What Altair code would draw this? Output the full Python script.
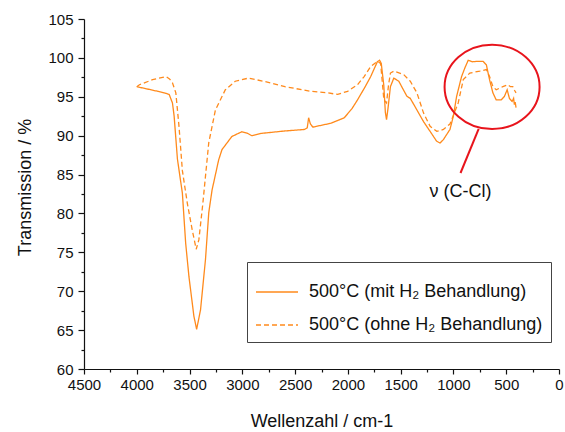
import altair as alt
import pandas as pd

# ---- data ----
wn_mit = [4000, 3900, 3800, 3740, 3693, 3662, 3646, 3615, 3568, 3537, 3506, 3459, 3433,
          3396, 3349, 3318, 3287, 3224, 3193, 3099, 3005, 2950, 2911, 2817, 2600, 2410,
          2385, 2372, 2355, 2332, 2160, 2034, 1960, 1909, 1840, 1784, 1721, 1700, 1684,
          1660, 1645, 1634, 1620, 1597, 1565, 1518, 1440, 1409, 1346, 1283, 1221, 1160,
          1127, 1095, 1033, 1001, 970, 923, 892, 860, 820, 782, 719, 688, 658, 626, 595,
          548, 517, 491, 470, 444, 430, 423, 415, 407]
t_mit = [96.3, 96.0, 95.7, 95.5, 95.3, 94.2, 92.5, 87.0, 82.6, 76.2, 71.9, 66.8, 65.1,
         67.6, 74.1, 80.1, 83.0, 86.9, 88.2, 89.9, 90.5, 90.3, 90.0, 90.3, 90.6, 90.8,
         91.0, 92.3, 91.5, 91.1, 91.6, 92.3, 93.5, 94.6, 96.2, 97.6, 99.5, 99.7, 99.3,
         96.5, 93.0, 92.05, 93.5, 96.3, 97.4, 97.0, 95.05, 94.8, 93.3, 91.8, 90.55, 89.3,
         89.05, 89.5, 90.8, 92.5, 95.05, 97.6, 98.7, 99.7, 99.5, 99.55, 99.55, 99.1, 97.2,
         95.5, 94.6, 94.6, 95.05, 95.9, 94.8, 94.4, 94.8, 94.0, 94.3, 93.6]

wn_ohne = [4000, 3975, 3850, 3724, 3690, 3662, 3630, 3600, 3568, 3521, 3475, 3437, 3412,
           3374, 3349, 3318, 3255, 3161, 3067, 2942, 2800, 2597, 2348, 2191, 2097, 2003,
           1909, 1846, 1784, 1721, 1690, 1659, 1634, 1615, 1597, 1565, 1471, 1409, 1346,
           1283, 1221, 1158, 1095, 1033, 955, 907, 845, 750, 688, 658, 626, 595, 532, 485,
           460, 438, 420, 407]
t_ohne = [96.3, 96.55, 97.2, 97.6, 97.3, 96.8, 95.5, 91.2, 85.5, 81.3, 77.9, 75.4, 76.6,
          81.3, 84.8, 89.1, 93.3, 95.9, 97.0, 97.4, 97.0, 96.3, 95.7, 95.5, 95.3, 95.7,
          96.55, 97.6, 98.9, 99.55, 99.3, 94.6, 94.2, 96.5, 98.05, 98.3, 97.85, 97.0, 95.5,
          92.9, 91.2, 90.55, 90.8, 91.5, 94.2, 97.2, 98.05, 98.3, 98.5, 97.6, 96.3, 95.9,
          96.3, 96.55, 96.3, 96.3, 95.8, 95.5]

LAB_MIT = "500°C (mit H₂ Behandlung)"
LAB_OHNE = "500°C (ohne H₂ Behandlung)"

x_major = [4500, 4000, 3500, 3000, 2500, 2000, 1500, 1000, 500, 0]
x_minor = [4250, 3750, 3250, 2750, 2250, 1750, 1250, 750, 250]
y_major = [60, 65, 70, 75, 80, 85, 90, 95, 100, 105]
y_minor = [62.5, 67.5, 72.5, 77.5, 82.5, 87.5, 92.5, 97.5, 102.5]

# annotation (data coordinates)
ann_ellipse_x = [634]
ann_ellipse_y = [96.27]
ann_line_x1 = [761]
ann_line_y1 = [90.86]
ann_line_x2 = [933]
ann_line_y2 = [85.2]
ann_text_x = [933]
ann_text_y = [82.8]
ann_text = ["ν (C-Cl)"]

df = pd.concat([
    pd.DataFrame({"w": wn_mit, "t": t_mit, "s": LAB_MIT}),
    pd.DataFrame({"w": wn_ohne, "t": t_ohne, "s": LAB_OHNE}),
], ignore_index=True)

ann = pd.DataFrame({
    "ex": ann_ellipse_x, "ey": ann_ellipse_y,
    "lx1": ann_line_x1, "ly1": ann_line_y1, "lx2": ann_line_x2, "ly2": ann_line_y2,
    "tx": ann_text_x, "ty": ann_text_y, "label": ann_text,
})

FONT = "Liberation Sans"
ORANGE = "#FF8A1C"
RED = "#E8141C"

xscale = alt.Scale(domain=[0, 4500], reverse=True, nice=False, zero=False)
yscale = alt.Scale(domain=[60, 105], nice=False, zero=False)

lines = alt.Chart(df).mark_line(color=ORANGE, strokeWidth=1.3).encode(
    x=alt.X("w:Q", scale=xscale,
            axis=alt.Axis(values=x_major, title="Wellenzahl / cm-1", tickSize=5, orient="bottom",
                          labelPadding=3, titlePadding=20, format="d",
                          labelFlush=False, labelOverlap=False, labelBound=False)),
    y=alt.Y("t:Q", scale=yscale,
            axis=alt.Axis(values=y_major, title="Transmission / %", tickSize=6, orient="left",
                          labelPadding=5, titlePadding=13, titleY=168, format="d",
                          labelFlush=False, labelOverlap=False)),
    strokeDash=alt.StrokeDash(
        "s:N",
        scale=alt.Scale(domain=[LAB_MIT, LAB_OHNE], range=[[1, 0], [5, 3]]),
        legend=alt.Legend(orient="none", legendX=163, legendY=243, title=None,
                          labelFont=FONT, labelFontSize=18, labelColor="#111",
                          symbolType="stroke", symbolSize=1764, symbolStrokeWidth=1.3,
                          symbolStrokeColor=ORANGE, strokeColor="#444", fillColor="white",
                          padding=8, rowPadding=2, labelOffset=10, labelLimit=400),
    ),
)

minor_x = alt.Chart(df).mark_point(opacity=0).encode(
    x=alt.X("w:Q", scale=xscale,
            axis=alt.Axis(values=x_minor, labels=False, domain=False, tickSize=3,
                          title=None, orient="bottom")),
    y=alt.Y("t:Q", scale=yscale, axis=None),
)
minor_y = alt.Chart(df).mark_point(opacity=0).encode(
    x=alt.X("w:Q", scale=xscale, axis=None),
    y=alt.Y("t:Q", scale=yscale,
            axis=alt.Axis(values=y_minor, labels=False, domain=False, tickSize=3,
                          title=None, orient="left")),
)

k = 0.5523
r = 0.888
ELLIPSE = (f"M -1 0 C -1 {-k*r:.3f} {-k:.3f} {-r} 0 {-r} C {k:.3f} {-r} 1 {-k*r:.3f} 1 0 "
           f"C 1 {k*r:.3f} {k:.3f} {r} 0 {r} C {-k:.3f} {r} -1 {k*r:.3f} -1 0 Z")

ellipse = alt.Chart(ann).mark_point(shape=ELLIPSE, size=9025, filled=False, stroke=RED,
                                    strokeWidth=2, opacity=1).encode(
    x=alt.X("ex:Q", scale=xscale, axis=None),
    y=alt.Y("ey:Q", scale=yscale, axis=None),
)
pointer = alt.Chart(ann).mark_rule(color=RED, strokeWidth=2).encode(
    x=alt.X("lx1:Q", scale=xscale, axis=None),
    y=alt.Y("ly1:Q", scale=yscale, axis=None),
    x2="lx2:Q", y2="ly2:Q",
)
label = alt.Chart(ann).mark_text(font=FONT, fontSize=18, color="#111",
                                 align="center", baseline="middle").encode(
    x=alt.X("tx:Q", scale=xscale, axis=None),
    y=alt.Y("ty:Q", scale=yscale, axis=None),
    text="label:N",
)

chart = alt.layer(lines, minor_x, minor_y, ellipse, pointer, label).resolve_axis(
    x="independent", y="independent"
).properties(
    width=475, height=350,
    padding={"left": 84, "top": 19, "right": 6, "bottom": 63},
    autosize=alt.AutoSizeParams(type="none"),
).configure_view(stroke=None).configure_axis(
    labelFont=FONT, titleFont=FONT, labelFontSize=15, titleFontSize=18,
    titleFontWeight="normal", labelColor="#111", titleColor="#111",
    domainColor="#111", tickColor="#111", domainWidth=1.2, tickWidth=1.2, grid=False,
)

chart.save("out.html", embed_options={"renderer": "svg", "actions": False})
